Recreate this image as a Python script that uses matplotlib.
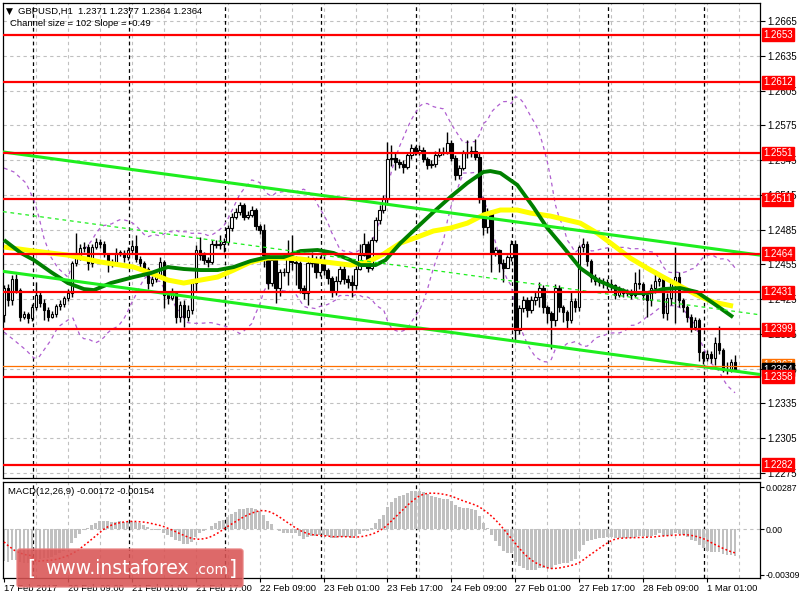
import numpy as np
import pandas as pd
import matplotlib
matplotlib.use("Agg")
import matplotlib.pyplot as plt
import matplotlib.transforms as mtrans
from matplotlib.patches import FancyBboxPatch

plt.rcParams['font.family'] = ['Liberation Sans', 'DejaVu Sans']

# ---------------- data ----------------
symbol_header = "GBPUSD,H1  1.2371 1.2377 1.2364 1.2364"
channel_text = "Channel size = 102 Slope = -0.49"
macd_text = "MACD(12,26,9) -0.00172 -0.00154"

first_open = 1.2411
closes = [
    1.2435, 1.2424, 1.2442, 1.2433, 1.2410, 1.2412, 1.2409, 1.2418, 1.2429, 1.2422,
    1.2416, 1.2410, 1.2412, 1.2419, 1.2421, 1.2426, 1.2430, 1.2456, 1.2461, 1.2469,
    1.2470, 1.2456, 1.2470, 1.2474, 1.2473, 1.2464, 1.2456, 1.2457, 1.2465, 1.2465,
    1.2461, 1.2467, 1.2471, 1.2460, 1.2456, 1.2451, 1.2439, 1.2442, 1.2446, 1.2457,
    1.2429, 1.2426, 1.2430, 1.2410, 1.2420, 1.2410, 1.2416, 1.2439, 1.2467, 1.2463,
    1.2459, 1.2457, 1.2473, 1.2472, 1.2473, 1.2474, 1.2486, 1.2496, 1.2500, 1.2506,
    1.2496, 1.2498, 1.2502, 1.2488, 1.2485, 1.2463, 1.2439, 1.2459, 1.2435, 1.2448,
    1.2448, 1.2461, 1.2457, 1.2456, 1.2435, 1.2430, 1.2456, 1.2459, 1.2448, 1.2457,
    1.2450, 1.2443, 1.2431, 1.2441, 1.2451, 1.2442, 1.2440, 1.2437, 1.2451, 1.2463,
    1.2473, 1.2452, 1.2476, 1.2493, 1.2502, 1.2511, 1.2546, 1.2547, 1.2543, 1.2542,
    1.2539, 1.2549, 1.2555, 1.2552, 1.2554, 1.2546, 1.2541, 1.2542, 1.2549, 1.2552,
    1.2552, 1.2560, 1.2547, 1.2532, 1.2538, 1.2551, 1.2551, 1.2553, 1.2548, 1.2511,
    1.2487, 1.2499, 1.2465, 1.2467, 1.2456, 1.2452, 1.2461, 1.2473, 1.2398, 1.2417,
    1.2424, 1.2416, 1.2424, 1.2427, 1.2435, 1.2418, 1.2413, 1.2407, 1.2435, 1.2418,
    1.2414, 1.2407, 1.2423, 1.2418, 1.2470, 1.2473, 1.2458, 1.2444, 1.2441, 1.2440,
    1.2439, 1.2438, 1.2437, 1.2429, 1.2433, 1.2430, 1.2431, 1.2429, 1.2439, 1.2438,
    1.2429, 1.2424, 1.2435, 1.2441, 1.2442, 1.2413, 1.2426, 1.2439, 1.2444, 1.2424,
    1.2418, 1.2410, 1.2401, 1.2407, 1.2379, 1.2374, 1.2378, 1.2374, 1.2387, 1.2381,
    1.2364, 1.2365, 1.2371, 1.2364]
highs = [
    1.2437, 1.2438, 1.2446, 1.2447, 1.2435, 1.2415, 1.2414, 1.2421, 1.2440, 1.2432,
    1.2425, 1.2418, 1.2415, 1.2421, 1.2424, 1.2428, 1.2434, 1.2458, 1.2482, 1.2473,
    1.2474, 1.2473, 1.2473, 1.2478, 1.2477, 1.2475, 1.2465, 1.2460, 1.2469, 1.2467,
    1.2467, 1.2470, 1.2476, 1.2480, 1.2462, 1.2458, 1.2453, 1.2445, 1.2449, 1.2461,
    1.2459, 1.2432, 1.2435, 1.2432, 1.2423, 1.2424, 1.2420, 1.2442, 1.2472, 1.2479,
    1.2466, 1.2461, 1.2476, 1.2476, 1.2480, 1.2478, 1.2489, 1.2499, 1.2504, 1.2509,
    1.2508, 1.2501, 1.2505, 1.2504, 1.2490, 1.2490, 1.2465, 1.2462, 1.2460, 1.2451,
    1.2452, 1.2476, 1.2480, 1.2462, 1.2458, 1.2437, 1.2462, 1.2466, 1.2462, 1.2462,
    1.2462, 1.2452, 1.2445, 1.2445, 1.2454, 1.2455, 1.2446, 1.2446, 1.2456, 1.2473,
    1.2482, 1.2475, 1.2479, 1.2496, 1.2506, 1.2515, 1.2561, 1.2558, 1.2552, 1.2546,
    1.2545, 1.2552, 1.2559, 1.2557, 1.2558, 1.2556, 1.2548, 1.2545, 1.2553, 1.2555,
    1.2556, 1.2569, 1.2562, 1.2549, 1.2541, 1.2554, 1.2562, 1.2557, 1.2563, 1.2552,
    1.2513, 1.2504, 1.2502, 1.2470, 1.2468, 1.2460, 1.2463, 1.2476, 1.2476, 1.2420,
    1.2428, 1.2427, 1.2428, 1.2431, 1.2440, 1.2437, 1.2420, 1.2415, 1.2438, 1.2437,
    1.2420, 1.2416, 1.2432, 1.2426, 1.2472, 1.2478, 1.2475, 1.2460, 1.2447, 1.2444,
    1.2443, 1.2442, 1.2442, 1.2438, 1.2436, 1.2435, 1.2434, 1.2434, 1.2448, 1.2451,
    1.2440, 1.2431, 1.2438, 1.2450, 1.2446, 1.2445, 1.2430, 1.2442, 1.2470, 1.2448,
    1.2426, 1.2420, 1.2412, 1.2410, 1.2409, 1.2380, 1.2381, 1.2380, 1.2392, 1.2402,
    1.2383, 1.2371, 1.2373, 1.2377]
lows = [
    1.2405, 1.2419, 1.2420, 1.2430, 1.2406, 1.2408, 1.2404, 1.2406, 1.2416, 1.2418,
    1.2407, 1.2406, 1.2409, 1.2410, 1.2416, 1.2418, 1.2423, 1.2427, 1.2454, 1.2459,
    1.2466, 1.2450, 1.2453, 1.2468, 1.2469, 1.2461, 1.2448, 1.2453, 1.2455, 1.2462,
    1.2457, 1.2459, 1.2465, 1.2457, 1.2450, 1.2445, 1.2434, 1.2436, 1.2440, 1.2444,
    1.2417, 1.2421, 1.2424, 1.2404, 1.2405, 1.2401, 1.2406, 1.2412, 1.2432, 1.2459,
    1.2455, 1.2453, 1.2455, 1.2469, 1.2468, 1.2466, 1.2472, 1.2484, 1.2494, 1.2498,
    1.2493, 1.2494, 1.2496, 1.2485, 1.2481, 1.2453, 1.2434, 1.2436, 1.2422, 1.2428,
    1.2445, 1.2437, 1.2450, 1.2437, 1.2430, 1.2425, 1.2420, 1.2453, 1.2443, 1.2445,
    1.2446, 1.2438, 1.2427, 1.2429, 1.2438, 1.2438, 1.2435, 1.2427, 1.2434, 1.2450,
    1.2462, 1.2448, 1.2450, 1.2474, 1.2490, 1.2499, 1.2508, 1.2540, 1.2536, 1.2538,
    1.2534, 1.2537, 1.2546, 1.2549, 1.2549, 1.2543, 1.2537, 1.2538, 1.2539, 1.2548,
    1.2549, 1.2550, 1.2544, 1.2528, 1.2529, 1.2536, 1.2547, 1.2548, 1.2545, 1.2508,
    1.2480, 1.2482, 1.2448, 1.2462, 1.2448, 1.2440, 1.2452, 1.2458, 1.2390, 1.2395,
    1.2414, 1.2410, 1.2413, 1.2420, 1.2418, 1.2413, 1.2404, 1.2382, 1.2402, 1.2414,
    1.2405, 1.2400, 1.2404, 1.2414, 1.2415, 1.2466, 1.2454, 1.2440, 1.2437, 1.2436,
    1.2435, 1.2434, 1.2433, 1.2425, 1.2427, 1.2427, 1.2428, 1.2425, 1.2427, 1.2434,
    1.2424, 1.2410, 1.2419, 1.2430, 1.2436, 1.2409, 1.2407, 1.2420, 1.2404, 1.2418,
    1.2414, 1.2405, 1.2397, 1.2398, 1.2372, 1.2369, 1.2372, 1.2370, 1.2368, 1.2378,
    1.2362, 1.2360, 1.2362, 1.2364]

# moving averages (bar position, price)
ma_fast_x = [0, 4.25, 7.5, 11.75, 16, 20, 22.5, 26.75, 32.5, 36.75,
             41, 45, 49.25, 53.5, 57.5, 61.75, 66, 70, 74.25, 78.5,
             82.5, 86.75, 89.25, 93, 95.5, 99.25, 103.5, 107.5, 111.75, 116,
             120, 121.75, 124.25, 128.5, 132.5, 136, 140, 144.25, 148.5, 152.5,
             156.75, 161, 165, 169.25, 173.5, 177.5, 182.5]
ma_fast = [1.24760, 1.24648, 1.24587, 1.24484, 1.24389, 1.24337, 1.24328, 1.24389, 1.24441, 1.24475,
           1.24527, 1.24510, 1.24501, 1.24501, 1.24527, 1.24579, 1.24613, 1.24613, 1.24665, 1.24674,
           1.24648, 1.24587, 1.24544, 1.24544, 1.24587, 1.24734, 1.24872, 1.25001, 1.25131, 1.25252,
           1.25347, 1.25355, 1.25338, 1.25235, 1.25045, 1.24864, 1.24700, 1.24518, 1.24415, 1.24354,
           1.24302, 1.24302, 1.24337, 1.24346, 1.24311, 1.24216, 1.24095]
ma_slow_x = [0, 7.5, 16, 24.25, 32.5, 36.75, 41, 45, 49.25, 53.5,
             57.5, 61.75, 66, 70, 74.25, 82.5, 86.75, 91, 95, 99.25,
             103.5, 107.5, 111.75, 116, 120, 124.25, 128.5, 131.75, 136.75, 144.25,
             148.5, 152.5, 156.75, 161, 165, 169.25, 173.5, 177.5, 182.5]
ma_slow = [1.24700, 1.24665, 1.24630, 1.24570, 1.24527, 1.24475, 1.24415, 1.24389, 1.24415, 1.24441,
           1.24501, 1.24570, 1.24605, 1.24605, 1.24596, 1.24562, 1.24544, 1.24570, 1.24639, 1.24734,
           1.24786, 1.24838, 1.24863, 1.24906, 1.24976, 1.25019, 1.25019, 1.24993, 1.24967, 1.24906,
           1.24820, 1.24717, 1.24605, 1.24518, 1.24441, 1.24363, 1.24285, 1.24225, 1.24190]

# Bollinger band start (before 20 bars of history are on the chart)
bb_head_x = [0, 2.5, 5.5, 7.5, 8.75, 10, 11.75, 13.5, 16, 17.25]
bb_head_upper = [1.25381, 1.25347, 1.25252, 1.25105, 1.24958, 1.24777, 1.24613, 1.24518, 1.24440, 1.24561]
bb_head_lower = [1.23966, 1.23897, 1.23811, 1.23741, 1.23750, 1.23811, 1.23897, 1.24009, 1.24070, 1.24087]
bb_period = 20
bb_dev = 2.0

# MACD settings and EMA start values
macd_fast, macd_slow, macd_sig = 12, 26, 9
ema_fast_seed = 1.2457
ema_slow_seed = 1.2478
signal_head = [-0.00085, -0.00110, -0.00130, -0.00150, -0.00160, -0.00170, -0.00175, -0.00178]

levels = [1.2653, 1.2612, 1.2551, 1.2511, 1.2464, 1.2431, 1.2399, 1.2358, 1.2282]
price_ticks = [1.2665, 1.2635, 1.2605, 1.2575, 1.2545, 1.2515, 1.2485, 1.2455,
               1.2425, 1.2395, 1.2365, 1.2335, 1.2305, 1.2275]
marker_line = 1.2367
last_price = 1.2364

chan_x = [-0.25, 189.25]
chan_upper = [1.2552, 1.2463]
chan_mid = [1.25005, 1.24115]
chan_lower = [1.2449, 1.2360]

time_label_bars = [0, 16, 32, 48, 64, 80, 96, 112, 128, 144, 160, 176]
time_labels = ["17 Feb 2017", "20 Feb 09:00", "21 Feb 01:00", "21 Feb 17:00",
               "22 Feb 09:00", "23 Feb 01:00", "23 Feb 17:00", "24 Feb 09:00",
               "27 Feb 01:00", "27 Feb 17:00", "28 Feb 09:00", "1 Mar 01:00"]
day_sep_bars = [7, 31, 55, 79, 103, 127, 151, 175]
macd_ticks = [0.00287, 0.0, -0.00309]
macd_tick_labels = ["0.00287", "0.00", "-0.00309"]

# ---------------- derived ----------------
n = len(closes)
idx = np.arange(n)
opens = [first_open] + closes[:-1]
s = pd.Series(closes)
bb_mid = s.rolling(bb_period).mean()
bb_sd = s.rolling(bb_period).std(ddof=0)
bb_up = bb_mid + bb_dev * bb_sd
bb_lo = bb_mid - bb_dev * bb_sd
bb_x = bb_head_x + list(idx[bb_period - 1:])
bb_u = bb_head_upper + list(bb_up.values[bb_period - 1:])
bb_l = bb_head_lower + list(bb_lo.values[bb_period - 1:])

af, aslw = 2.0 / (macd_fast + 1), 2.0 / (macd_slow + 1)
ef, es = ema_fast_seed, ema_slow_seed
macd = []
for c in closes:
    ef += af * (c - ef)
    es += aslw * (c - es)
    macd.append(ef - es)
macd = np.array(macd)
sig = pd.Series(macd).rolling(macd_sig).mean().values
sig[:len(signal_head)] = signal_head

# ---------------- figure ----------------
W, H = 800, 600
fig = plt.figure(figsize=(8, 6), dpi=100)
fig.patch.set_facecolor('white')

def fx(px):
    return px / W

def fy(py):
    return 1 - py / H

ax = fig.add_axes([fx(3), fy(478), fx(760) - fx(3), fy(3) - fy(478)])
axm = fig.add_axes([fx(3), fy(578), fx(760) - fx(3), fy(482) - fy(578)])

XL = (-0.25, 189.25)
grid_kw = dict(color='#c0c0c0', lw=0.8, dashes=(3, 3), zorder=0)
sep_kw = dict(color='black', lw=0.9, dashes=(3, 2.5), zorder=0.5)
LBL = 7.0

for a in (ax, axm):
    a.set_xlim(*XL)
    a.set_facecolor('white')
    for sp in a.spines.values():
        sp.set_color('black')
        sp.set_linewidth(0.9)
    for g in range(8, 189, 8):
        a.axvline(g, **grid_kw)
    for d in day_sep_bars:
        a.axvline(d + 0.25, **sep_kw)

# main panel
ax.set_ylim(1.22707, 1.26805)
for t in price_ticks:
    ax.axhline(t, **grid_kw)
ax.yaxis.tick_right()
ax.set_yticks(price_ticks)
ax.set_yticklabels([f"{t:.4f}" for t in price_ticks])
ax.tick_params(axis='y', length=3.5, width=0.8, labelsize=LBL, pad=2, colors='black')
ax.set_xticks([])

# bollinger bands
ax.plot(bb_x, bb_u, color='#b05fd0', lw=0.9, dashes=(3, 3), zorder=1)
ax.plot(bb_x, bb_l, color='#b05fd0', lw=0.9, dashes=(3, 3), zorder=1)

# candles
o = np.array(opens); c = np.array(closes)
hi = np.maximum(np.array(highs), np.maximum(o, c))
lo = np.minimum(np.array(lows), np.minimum(o, c))
ax.vlines(idx, lo, hi, color='black', lw=1.0, zorder=4)
bottom = np.minimum(o, c)
height = np.maximum(np.abs(c - o), 0.00003)
colors = ['white' if cc >= oo else 'black' for oo, cc in zip(o, c)]
ax.bar(idx, height, bottom=bottom, width=0.62, color=colors, edgecolor='black',
       linewidth=0.8, zorder=4.5)

# moving averages
ax.plot(ma_slow_x, ma_slow, color='#ffff00', lw=3.6, zorder=5, solid_capstyle='butt')
ax.plot(ma_fast_x, ma_fast, color='#008000', lw=2.8, zorder=5.2, solid_capstyle='butt')

# channel
ax.plot(chan_x, chan_upper, color='#1eee1e', lw=2.2, zorder=6)
ax.plot(chan_x, chan_lower, color='#1eee1e', lw=2.2, zorder=6)
ax.plot(chan_x, chan_mid, color='#1eee1e', lw=0.9, dashes=(3, 3), zorder=6)

# horizontal levels
for lv in levels:
    ax.axhline(lv, color='red', lw=1.6, zorder=6.5)
ax.axhline(marker_line, color='#ff7000', lw=0.9, zorder=6.4)

ytrans = mtrans.blended_transform_factory(ax.transAxes, ax.transData)
lab_x = 1.0 + 3.0 / 757
box_kw = dict(boxstyle='square,pad=0.15')
for lv in levels:
    ax.text(lab_x, lv, f"{lv:.4f}", transform=ytrans, ha='left', va='center',
            fontsize=LBL, color='white', clip_on=False, zorder=10,
            bbox=dict(fc='red', ec='red', **box_kw))
ax.text(lab_x, marker_line + 0.00012, f"{marker_line:.4f}", transform=ytrans, ha='left',
        va='center', fontsize=LBL, color='white', clip_on=False, zorder=9,
        bbox=dict(fc='#ff7000', ec='#ff7000', **box_kw))
ax.text(lab_x, last_price, f"{last_price:.4f}", transform=ytrans, ha='left',
        va='center', fontsize=LBL, color='white', clip_on=False, zorder=9.5,
        bbox=dict(fc='black', ec='black', **box_kw))

# header texts
fig.text(fx(6), fy(11), "\u25bc", fontsize=6.5, va='center', ha='left',
         family=['DejaVu Sans'])
fig.text(fx(18), fy(11), symbol_header, fontsize=6.8, va='center', ha='left')
fig.text(fx(10), fy(24), channel_text, fontsize=6.8, va='center', ha='left')

# MACD panel
axm.set_ylim(-0.00330, 0.00321)
axm.axhline(0, color='#c0c0c0', lw=0.8, dashes=(3, 3), zorder=0)
axm.bar(idx, macd, width=0.72, color='#c0c0c0', zorder=2)
axm.plot(idx, sig, color='red', lw=1.1, ls=(0, (1.2, 1.5)), zorder=3)
axm.yaxis.tick_right()
axm.set_yticks(macd_ticks)
axm.set_yticklabels(macd_tick_labels)
axm.tick_params(axis='y', length=3, width=0.8, labelsize=6.3, pad=1.2)
axm.set_xticks(time_label_bars)
axm.set_xticklabels(time_labels)
axm.tick_params(axis='x', length=3, width=0.8, labelsize=6.8, pad=1.5)
for lab in axm.get_xticklabels():
    lab.set_horizontalalignment('left')
fig.text(fx(8), fy(491), macd_text, fontsize=6.8, va='center', ha='left')

# watermark
box = FancyBboxPatch((fx(17), fy(587)), fx(226), fy(549) - fy(587),
                     boxstyle='round,pad=0,rounding_size=0.004',
                     transform=fig.transFigure, fc='#d95454', ec='#e88080',
                     lw=1.0, alpha=0.88, zorder=20)
fig.patches.append(box)
fig.text(fx(27), fy(569), "[", fontsize=15, color='white', va='center', ha='left',
         family=['DejaVu Sans'], zorder=21)
fig.text(fx(45), fy(568), "www.instaforex", fontsize=13.5, color='white', va='center',
         ha='left', family=['DejaVu Sans'], zorder=21)
fig.text(fx(194), fy(570), ".com", fontsize=10, color='white', va='center',
         ha='left', family=['DejaVu Sans'], zorder=21)
fig.text(fx(229), fy(569), "]", fontsize=15, color='white', va='center', ha='left',
         family=['DejaVu Sans'], zorder=21)

fig.savefig("out.png", dpi=100, facecolor='white')
